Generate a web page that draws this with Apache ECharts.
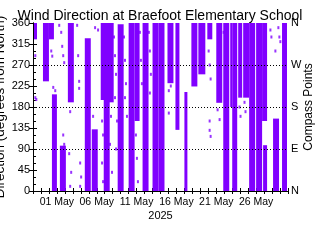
<!DOCTYPE html>
<html>
<head>
<meta charset="utf-8">
<script src="https://cdn.jsdelivr.net/npm/echarts@6/dist/echarts.min.js"></script>
<style>html,body{margin:0;padding:0;background:#fff}#c{width:320px;height:240px}</style>
</head>
<body>
<div id="c"></div>
<script>
// Hours counted from 2025-04-28 00:00
var startDate = '2025-04-28';
var xTickHours = [72, 192, 312, 432, 552, 672];
var xTickLabels = ['01 May', '06 May', '11 May', '16 May', '21 May', '26 May'];
var yCompassValues = [0, 90, 180, 270, 360];
var yCompassLabels = ['N', 'E', 'S', 'W', 'N'];

// dense runs of observations: start hour, end hour, lowest and highest direction seen
var segStart = [3, 30, 48, 57, 81, 105, 156, 177, 204, 213, 228, 255, 288, 306, 330, 360, 378, 405, 429, 456, 477, 498, 525, 552, 573, 594, 600, 618, 633, 651, 672, 690, 693, 723, 750];
var segEnd   = [12, 48, 63, 72, 99, 123, 174, 195, 216, 231, 243, 273, 306, 321, 348, 378, 396, 423, 441, 465, 495, 519, 540, 570, 591, 600, 615, 630, 651, 669, 690, 705, 705, 741, 765];
var segLow   = [325, 235, 325, 0, 0, 190, 0, 0, 195, 0, 190, 0, 0, 150, 0, 0, 0, 231, 131, 0, 224, 250, 325, 189, 0, 180, 0, 200, 200, 0, 0, 150, 0, 0, 0];
var segHigh  = [360, 360, 360, 205, 95, 360, 325, 130, 360, 360, 360, 355, 360, 360, 360, 360, 360, 360, 360, 210, 360, 360, 360, 360, 360, 360, 360, 360, 360, 360, 360, 360, 96, 153, 360];

// isolated observations: hour, direction
var dotHour = [7, 7, 10, 55, 58, 61, 67, 79, 85, 88, 91, 94, 91, 94, 112, 109, 115, 112, 133, 136, 139, 139, 142, 145, 142, 181, 187, 196, 208, 211, 208, 211, 235, 232, 238, 244, 247, 250, 247, 253, 250, 274, 277, 280, 277, 283, 310, 313, 316, 322, 325, 328, 349, 352, 355, 352, 409, 415, 409, 529, 532, 535, 532, 532, 535, 556, 562, 574, 580, 622, 625, 637, 640, 715, 718, 739, 742, 745, 730];
var dotDir  = [290, 200, 196, 300, 289, 222, 215, 355, 340, 310, 290, 275, 120, 100, 170, 80, 40, 10, 355, 290, 220, 235, 60, 30, 10, 160, 350, 345, 150, 120, 60, 20, 160, 100, 40, 330, 290, 250, 200, 150, 90, 330, 280, 230, 200, 160, 120, 70, 20, 340, 280, 230, 340, 300, 250, 210, 215, 225, 167, 300, 270, 240, 150, 130, 117, 174, 153, 340, 350, 180, 160, 190, 170, 345, 330, 350, 330, 320, 300];

var purple = '#8000ff';
var font = 'Liberation Sans, Arial, sans-serif';

var segData = segStart.map(function (s, i) { return [s, segEnd[i], segLow[i], segHigh[i]]; });
var dotData = dotHour.map(function (h, i) { return [h, dotDir[i]]; });

var chart = echarts.init(document.getElementById('c'), null, {renderer: 'canvas'});
chart.setOption({
  animation: false,
  backgroundColor: '#fff',
  textStyle: {fontFamily: font, color: '#000'},
  title: {
    text: 'Wind Direction at Braefoot Elementary School',
    left: 'center', top: 4,
    textStyle: {fontFamily: font, fontSize: 14, fontWeight: 'normal', color: '#000'}
  },
  grid: {left: 33, right: 32, top: 23, bottom: 49, containLabel: false, outerBoundsMode: 'none'},
  xAxis: [{
    type: 'value', min: 0, max: 768, interval: 24, position: 'bottom',
    axisLine: {lineStyle: {color: '#000', width: 1}},
    axisTick: {inside: true, length: 3, lineStyle: {color: '#000'}},
    axisLabel: {
      fontFamily: font, fontSize: 10.5, color: '#000', margin: 6, showMinLabel: true, showMaxLabel: true,
      formatter: function (v) { var k = xTickHours.indexOf(v); return k >= 0 ? xTickLabels[k] : ''; }
    },
    splitLine: {show: false},
    name: '2025', nameLocation: 'middle', nameGap: 19, nameMoveOverlap: false,
    nameTextStyle: {fontFamily: font, fontSize: 11, color: '#000'}
  }, {
    type: 'value', min: 0, max: 768, interval: 24, position: 'top',
    axisLine: {lineStyle: {color: '#000', width: 1}},
    axisTick: {inside: true, length: 3, lineStyle: {color: '#000'}},
    axisLabel: {show: false}, splitLine: {show: false}
  }],
  yAxis: [{
    type: 'value', min: 0, max: 360, interval: 45, position: 'left',
    axisLine: {show: true, lineStyle: {color: '#000', width: 1}},
    axisTick: {show: true, inside: true, length: 4, lineStyle: {color: '#000'}},
    minorTick: {show: true, splitNumber: 3, length: 3, lineStyle: {color: '#000'}},
    axisLabel: {fontFamily: font, fontSize: 11, color: '#000', margin: 3, padding: [2, 0, 0, 0]},
    splitLine: {show: false},
    name: 'Direction (degrees from North)', nameLocation: 'middle', nameGap: 26, nameRotate: 90, nameMoveOverlap: false,
    nameTextStyle: {fontFamily: font, fontSize: 13.5, color: '#000'}
  }, {
    type: 'value', min: 0, max: 360, interval: 45, position: 'right',
    axisLine: {show: true, lineStyle: {color: '#000', width: 1}},
    axisTick: {show: true, inside: true, length: 4, lineStyle: {color: '#000'}},
    axisLabel: {
      fontFamily: font, fontSize: 11, color: '#000', margin: 3,
      formatter: function (v) { var k = yCompassValues.indexOf(v); return k >= 0 ? yCompassLabels[k] : ''; }
    },
    splitLine: {show: false},
    name: 'Compass Points', nameLocation: 'middle', nameGap: 15, nameRotate: 90, nameMoveOverlap: false,
    nameTextStyle: {fontFamily: font, fontSize: 12, color: '#000'}
  }],
  series: [{
    type: 'custom',
    xAxisIndex: 0, yAxisIndex: 0,
    clip: true,
    encode: {x: [0, 1], y: [2, 3]},
    data: segData,
    renderItem: function (params, api) {
      var p0 = api.coord([api.value(0), api.value(3)]);
      var p1 = api.coord([api.value(1), api.value(2)]);
      return {
        type: 'rect',
        shape: {x: p0[0], y: p0[1] - 1, width: Math.max(p1[0] - p0[0], 2), height: Math.max(p1[1] - p0[1], 2) + 1},
        style: {fill: purple}
      };
    },
    z: 2
  }, {
    type: 'scatter',
    xAxisIndex: 0, yAxisIndex: 0,
    symbol: 'rect', symbolSize: [2, 3],
    itemStyle: {color: purple},
    data: dotData,
    z: 3,
    markLine: {
      silent: true, symbol: 'none', label: {show: false},
      lineStyle: {color: '#000', type: [1, 2], width: 1},
      data: [{yAxis: 90}, {yAxis: 180}, {yAxis: 270}]
    }
  }]
});
</script>
</body>
</html>
